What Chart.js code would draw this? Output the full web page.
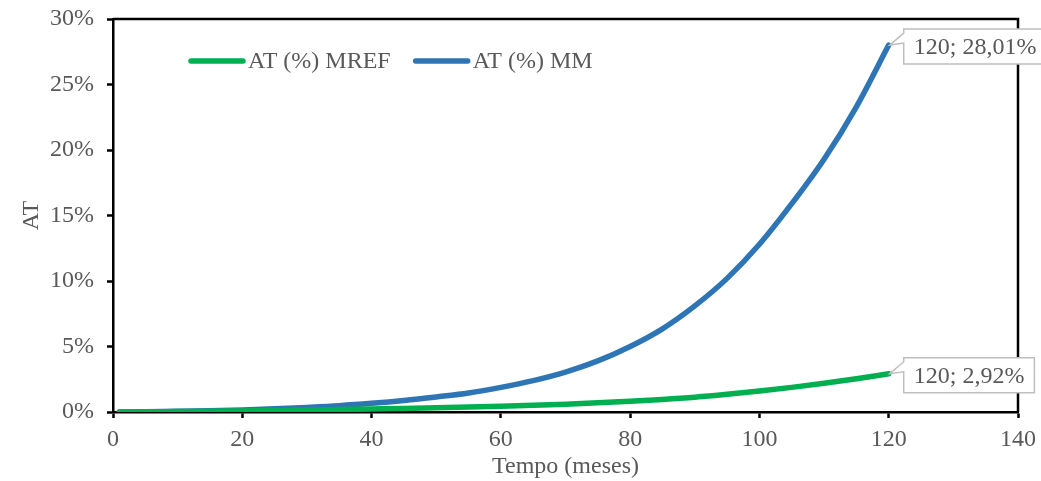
<!DOCTYPE html>
<html>
<head>
<meta charset="utf-8">
<script src="https://cdn.jsdelivr.net/npm/chart.js@4/dist/chart.umd.min.js"></script>
<style>
  html, body { margin: 0; padding: 0; background: #fff; }
  #wrap { width: 1041px; height: 481px; }
</style>
</head>
<body>
<div id="wrap"><canvas id="myChart" width="1041" height="481"></canvas></div>
<script>
// meses
const meses = [1, 5, 10, 15, 20, 25, 30, 35, 40, 45, 50, 55, 60, 65, 70, 75, 80, 85, 90, 95, 100, 105, 110, 115, 120];
// AT (%) MREF
const atMref = [0, 0.01, 0.03, 0.05, 0.08, 0.11, 0.15, 0.19, 0.23, 0.27, 0.32, 0.38, 0.44, 0.51, 0.6, 0.7, 0.82, 0.96, 1.13, 1.35, 1.6, 1.88, 2.19, 2.54, 2.92];
// AT (%) MM
const atMm = [0, 0.02, 0.05, 0.09, 0.15, 0.24, 0.35, 0.48, 0.66, 0.88, 1.15, 1.45, 1.88, 2.4, 3.05, 3.9, 5.0, 6.35, 8.1, 10.2, 12.8, 15.9, 19.3, 23.3, 28.01];
const nomes = ["AT (%) MREF", "AT (%) MM"];
const cores = ["#00b050", "#2e75b6"];

const fonte = "Liberation Serif, Times New Roman, serif";
const tam = 24;
const cinza = "#595959";

function pontos(ys) {
    return meses.map(function (m, i) { return { x: m, y: ys[i] }; });
}

// moldura, legenda e rótulos de dados
const extras = {
    id: "extras",
    afterDraw: function (chart) {
        const c = chart.ctx;
        const a = chart.chartArea;
        c.save();
        // moldura superior e direita
        c.strokeStyle = "#000";
        c.lineWidth = 2.5;
        c.beginPath();
        c.moveTo(a.left, a.top);
        c.lineTo(a.right, a.top);
        c.lineTo(a.right, a.bottom);
        c.stroke();

        // legenda
        c.font = tam + "px " + fonte;
        c.textBaseline = "middle";
        let x = a.left + 78;
        const y = a.top + 42;
        chart.data.datasets.forEach(function (ds) {
            c.strokeStyle = ds.borderColor;
            c.lineWidth = 5.5;
            c.lineCap = "round";
            c.beginPath();
            c.moveTo(x, y);
            c.lineTo(x + 52, y);
            c.stroke();
            c.fillStyle = cinza;
            c.fillText(ds.label, x + 57, y + 1);
            x += 57 + c.measureText(ds.label).width + 25;
        });

        // rótulos do último ponto
        chart.data.datasets.forEach(function (ds, i) {
            const meta = chart.getDatasetMeta(i);
            const p = meta.data[meta.data.length - 1];
            const v = ds.data[ds.data.length - 1];
            const txt = v.x + "; " + v.y.toFixed(2).replace(".", ",") + "%";
            c.font = tam + "px " + fonte;
            const w = c.measureText(txt).width + 20;
            const bx = p.x + 15, by = p.y - 16, bh = 35;
            c.fillStyle = "#fff";
            c.strokeStyle = "#bfbfbf";
            c.lineWidth = 1.5;
            c.lineCap = "butt";
            c.beginPath();
            c.moveTo(bx, by);
            c.lineTo(bx + w, by);
            c.lineTo(bx + w, by + bh);
            c.lineTo(bx, by + bh);
            c.lineTo(bx, by + 14);
            c.lineTo(p.x + 1, p.y);
            c.lineTo(bx, by + 4);
            c.closePath();
            c.fill();
            c.stroke();
            c.fillStyle = cinza;
            c.textBaseline = "middle";
            c.fillText(txt, bx + 10, by + bh / 2 + 1);
        });
        c.restore();
    }
};

document.addEventListener("DOMContentLoaded", function () {
    const ctx = document.getElementById("myChart").getContext("2d");
    new Chart(ctx, {
        type: "line",
        data: {
            datasets: [
                {
                    label: nomes[0],
                    data: pontos(atMref),
                    borderColor: cores[0],
                    backgroundColor: cores[0],
                    borderWidth: 5.5,
                    pointRadius: 0,
                    cubicInterpolationMode: "monotone",
                    borderCapStyle: "round",
                },
                {
                    label: nomes[1],
                    data: pontos(atMm),
                    borderColor: cores[1],
                    backgroundColor: cores[1],
                    borderWidth: 5.5,
                    pointRadius: 0,
                    cubicInterpolationMode: "monotone",
                    borderCapStyle: "round",
                },
            ],
        },
        options: {
            responsive: false,
            animation: false,
            layout: { padding: { left: 0, top: 19, right: 23, bottom: 0 } },
            scales: {
                x: {
                    type: "linear",
                    min: 0,
                    max: 140,
                    ticks: {
                        stepSize: 20,
                        color: cinza,
                        font: { family: fonte, size: tam },
                        padding: 7,
                        maxRotation: 0,
                    },
                    grid: {
                        drawOnChartArea: false,
                        tickLength: 6,
                        tickWidth: 2.5,
                        tickColor: "#000",
                    },
                    border: { color: "#000", width: 2.5 },
                    title: {
                        display: true,
                        text: "Tempo (meses)",
                        color: cinza,
                        font: { family: fonte, size: tam },
                        padding: { top: 0, bottom: 0 },
                    },
                    afterFit: function (s) {
                        s.height = 69;
                        s.paddingRight = 0;
                        s.paddingLeft = 0;
                    },
                },
                y: {
                    min: 0,
                    max: 30,
                    ticks: {
                        stepSize: 5,
                        color: cinza,
                        font: { family: fonte, size: tam },
                        padding: 13,
                        callback: function (v) { return v + "%"; },
                    },
                    grid: {
                        drawOnChartArea: false,
                        tickLength: 6,
                        tickWidth: 2.5,
                        tickColor: "#000",
                    },
                    border: { color: "#000", width: 2.5 },
                    title: {
                        display: true,
                        text: "AT",
                        color: cinza,
                        font: { family: fonte, size: tam },
                        padding: { top: 17, bottom: 0 },
                    },
                    afterFit: function (s) {
                        s.width = 113;
                        s.paddingTop = 0;
                        s.paddingBottom = 0;
                    },
                },
            },
            plugins: {
                legend: { display: false },
                tooltip: { enabled: false },
            },
        },
        plugins: [extras],
    });
});
</script>
</body>
</html>
